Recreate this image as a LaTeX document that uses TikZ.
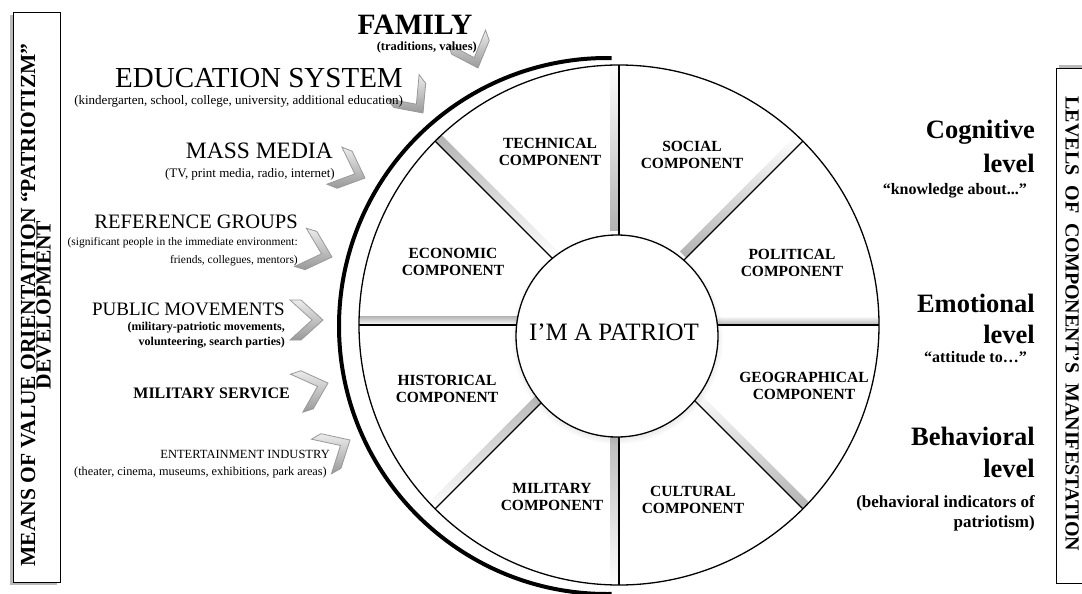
\documentclass[tikz,border=0pt]{standalone}
\usepackage{fontspec}
\setmainfont{Liberation Serif}
\usetikzlibrary{calc, shadows}

\begin{document}
\begin{tikzpicture}[x=1pt, y=-1pt,
    txt/.style={anchor=base east, inner sep=0pt},
    comp/.style={font=\fontsize{15.5}{17.5}\selectfont\bfseries, align=center, inner sep=0pt},
    lvl/.style={anchor=base east, inner sep=0pt, font=\fontsize{26.5}{28}\selectfont\bfseries},
    chev/.style={top color=gray!15, middle color=gray!40, bottom color=gray!80, draw=gray!80, line width=0.8pt}]
            \useasboundingbox (0,0) rectangle (1082,594);
            \coordinate (O) at (619,325);
            \coordinate (I) at (617,336);
            \coordinate (T) at (607,326);
            \fill[gray!55] (10,15) rectangle (57,585);
            \draw[line width=0.9pt, fill=white] (13,12) rectangle (60,582);
            \fill[gray!55] (1059,65) rectangle (1090,580);
            \draw[line width=0.9pt, fill=white] (1056,68) rectangle (1090,583);
            \node (means) [rotate=90, align=center, font=\fontsize{21.5}{15.5}\selectfont\bfseries] at (36,305) {MEANS OF VALUE ORIENTAITION “PATRIOTIZM”\\DEVELOPMENT};
            \node (levels) [rotate=-90, font=\fontsize{20}{20}\selectfont\bfseries] at (1072,324) {LEVELS\ \ OF\ \ COMPONENT'S\ \ MANIFESTATION};
            \begin{scope}
                \clip (O) circle (260);
                \foreach \a in {0,45,90,315}
                    \shade[shift={(O)}, rotate=\a, top color=white, bottom color=gray!60] (95,0) rectangle (262,-9);
                \foreach \a in {135,180,225,270}
                    \shade[shift={(O)}, rotate=\a, top color=gray!60, bottom color=white] (95,0) rectangle (262,9);
            \end{scope}
            \foreach \a in {0,45,...,315}
                \draw[line width=1.3pt] (O) -- ++(\a:260);
            \draw[line width=1.3pt] (O) circle (260);
            \filldraw[fill=white, line width=1.3pt, circular drop shadow={shadow xshift=0pt, shadow yshift=-2pt, shadow scale=1.05, opacity=0.35}] (I) circle (101);
            \draw[line width=4pt] ($(T)+(89:268)$) arc[start angle=89, end angle=271, radius=268];
            \foreach \x/\y/\r in {478/68/-70, 423/113/-53, 365/178/-22, 332/257/-17, 323/320/0, 328/383/18, 350/440/30}
                \shade[chev, shift={(\x,\y)}, rotate=\r] (0,0) -- (-22,-20) -- (-33,-20) -- (-11,0) -- (-33,20) -- (-22,20) -- cycle;
            \node (family) [anchor=base, inner sep=0pt, font=\fontsize{29.5}{30}\selectfont\bfseries] at (415,35) {FAMILY};
            \node (familyx) [txt, font=\fontsize{12.5}{13}\selectfont\bfseries] at (477,51) {(traditions, values)};
            \node (edu) [txt, font=\fontsize{29}{30}\selectfont] at (403,88) {EDUCATION SYSTEM};
            \node (edux) [txt, font=\fontsize{13}{13}\selectfont] at (403,104) {(kindergarten, school, college, university, additional education)};
            \node (media) [txt, font=\fontsize{23.5}{24}\selectfont] at (333,158) {MASS MEDIA};
            \node (mediax) [txt, font=\fontsize{13}{13}\selectfont] at (335,177) {(TV, print media, radio, internet)};
            \node (ref) [txt, font=\fontsize{20.5}{21}\selectfont] at (298,228) {REFERENCE GROUPS};
            \node (refx) [txt, font=\fontsize{11.5}{12}\selectfont] at (298,245) {(significant people in the immediate environment:};
            \node (refy) [txt, font=\fontsize{11.5}{12}\selectfont] at (298,263) {friends, collegues, mentors)};
            \node (pub) [txt, font=\fontsize{19}{19}\selectfont] at (285,315) {PUBLIC MOVEMENTS};
            \node (pubx) [txt, font=\fontsize{12}{12}\selectfont\bfseries] at (285,330) {(military-patriotic movements,};
            \node (puby) [txt, font=\fontsize{12}{12}\selectfont\bfseries] at (285,345) {volunteering, search parties)};
            \node (mil) [txt, font=\fontsize{16}{16}\selectfont\bfseries] at (290,398) {MILITARY SERVICE};
            \node (ent) [txt, font=\fontsize{12.5}{13}\selectfont] at (330,458) {ENTERTAINMENT INDUSTRY};
            \node (entx) [txt, font=\fontsize{12.3}{13}\selectfont] at (327,475) {(theater, cinema, museums, exhibitions, park areas)};
            \node (tech) [comp] at (550,152) {TECHNICAL\\COMPONENT};
            \node (soc) [comp] at (692,155) {SOCIAL\\COMPONENT};
            \node (eco) [comp] at (453,262) {ECONOMIC\\COMPONENT};
            \node (pol) [comp] at (792,263) {POLITICAL\\COMPONENT};
            \node (his) [comp] at (447,389) {HISTORICAL\\COMPONENT};
            \node (geo) [comp] at (804,386) {GEOGRAPHICAL\\COMPONENT};
            \node (milc) [comp] at (552,497) {MILITARY\\COMPONENT};
            \node (cul) [comp] at (693,500) {CULTURAL\\COMPONENT};
            \node (me) [font=\fontsize{25}{25}\selectfont] at (614,332) {I'M A PATRIOT};
            \node (cog) [lvl] at (1035,138) {Cognitive};
            \node (cogl) [lvl] at (1035,172) {level};
            \node (cogx) [txt, font=\fontsize{16}{16}\selectfont\bfseries] at (1027,194) {“knowledge about...”};
            \node (emo) [lvl] at (1035,312) {Emotional};
            \node (emol) [lvl] at (1035,343) {level};
            \node (emox) [txt, font=\fontsize{16}{16}\selectfont\bfseries] at (1027,362) {“attitude to…”};
            \node (beh) [lvl] at (1035,445) {Behavioral};
            \node (behl) [lvl] at (1035,477) {level};
            \node (behx) [txt, font=\fontsize{17}{17}\selectfont\bfseries] at (1035,507) {(behavioral indicators of};
            \node (behy) [txt, font=\fontsize{17}{17}\selectfont\bfseries] at (1035,527) {patriotism)};
        \end{tikzpicture}
\end{document}
